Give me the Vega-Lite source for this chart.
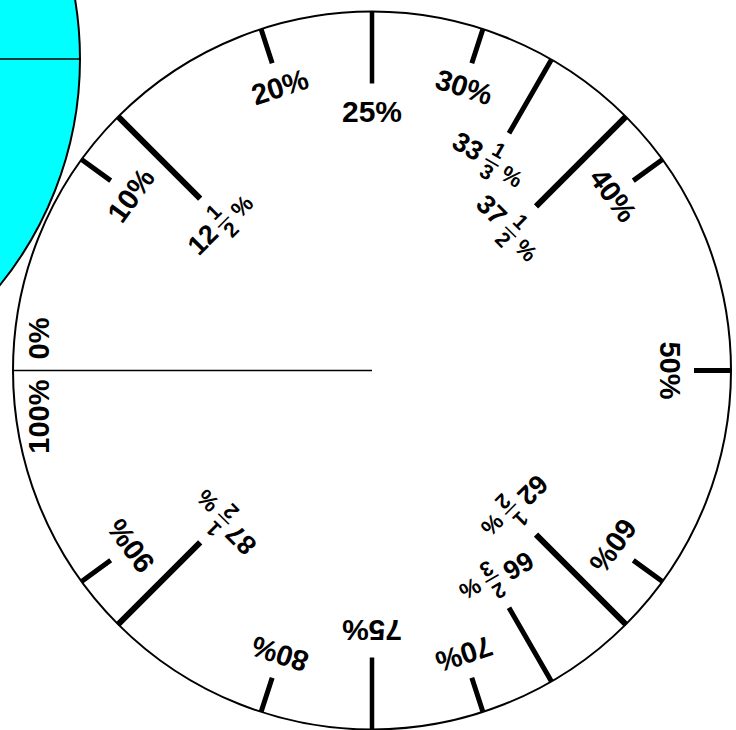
{
  "$schema": "https://vega.github.io/schema/vega-lite/v6.json",
  "width": 728,
  "height": 719,
  "autosize": "none",
  "padding": {"left": 8, "top": 11, "right": 0, "bottom": 0},
  "background": "white",
  "datasets": {
    "dial": [
      {"pct": 0, "label": "0%", "kind": "zero"},
      {"pct": 10, "label": "10%", "kind": "tenth"},
      {"pct": 12.5, "whole": "12", "num": "1", "den": "2", "kind": "eighth"},
      {"pct": 20, "label": "20%", "kind": "tenth"},
      {"pct": 25, "label": "25%", "kind": "quarter"},
      {"pct": 30, "label": "30%", "kind": "tenth"},
      {"pct": 33.333, "whole": "33", "num": "1", "den": "3", "kind": "third"},
      {"pct": 37.5, "whole": "37", "num": "1", "den": "2", "kind": "eighth"},
      {"pct": 40, "label": "40%", "kind": "tenth"},
      {"pct": 50, "label": "50%", "kind": "half"},
      {"pct": 60, "label": "60%", "kind": "tenth"},
      {"pct": 62.5, "whole": "62", "num": "1", "den": "2", "kind": "eighth"},
      {"pct": 66.667, "whole": "66", "num": "2", "den": "3", "kind": "third"},
      {"pct": 70, "label": "70%", "kind": "tenth"},
      {"pct": 75, "label": "75%", "kind": "quarter"},
      {"pct": 80, "label": "80%", "kind": "tenth"},
      {"pct": 87.5, "whole": "87", "num": "1", "den": "2", "kind": "eighth"},
      {"pct": 90, "label": "90%", "kind": "tenth"},
      {"pct": 100, "label": "100%", "kind": "full"}
    ]
  },
  "data": {"name": "dial"},
  "layer": [
    {
      "data": {"values": [{"disc": "overlay"}]},
      "mark": {"type": "arc", "fill": "#00FFFF", "stroke": "black", "strokeWidth": 2},
      "encoding": {
        "x": {"value": -287},
        "y": {"value": 48},
        "theta": {"value": 0},
        "theta2": {"value": 6.2832},
        "radius": {"value": 359}
      }
    },
    {
      "data": {"values": [{"disc": "overlay"}]},
      "mark": {"type": "arc", "fill": "black", "stroke": "black", "strokeWidth": 1.6},
      "encoding": {
        "x": {"value": -287},
        "y": {"value": 48},
        "theta": {"value": 1.5708},
        "theta2": {"value": 1.5708},
        "radius": {"value": 359},
        "radius2": {"value": 0}
      }
    },
    {
      "data": {"values": [{"disc": "dial"}]},
      "mark": {"type": "arc", "fill": "white", "stroke": "black", "strokeWidth": 2},
      "encoding": {
        "theta": {"value": 0},
        "theta2": {"value": 6.2832},
        "radius": {"value": 359}
      }
    },
    {
      "transform": [{"filter": "datum.kind == 'zero'"}],
      "mark": {"type": "arc", "fill": "black", "stroke": "black", "strokeWidth": 1.6},
      "encoding": {
        "theta": {"field": "pct", "type": "quantitative", "stack": null, "scale": {"domain": [0, 100], "range": [-1.5708, 4.7124]}},
        "theta2": {"field": "pct"},
        "radius": {"value": 359},
        "radius2": {"value": 0}
      }
    },
    {
      "transform": [{"filter": "datum.kind == 'tenth'"}],
      "mark": {"type": "arc", "fill": "black", "stroke": "black", "strokeWidth": 5},
      "encoding": {
        "theta": {"field": "pct", "type": "quantitative", "stack": null, "scale": {"domain": [0, 100], "range": [-1.5708, 4.7124]}},
        "theta2": {"field": "pct"},
        "radius": {"value": 359},
        "radius2": {"value": 323}
      }
    },
    {
      "transform": [{"filter": "datum.kind == 'eighth' && (datum.pct < 25 || datum.pct > 75)"}],
      "mark": {"type": "arc", "fill": "black", "stroke": "black", "strokeWidth": 6},
      "encoding": {
        "theta": {"field": "pct", "type": "quantitative", "stack": null, "scale": {"domain": [0, 100], "range": [-1.5708, 4.7124]}},
        "theta2": {"field": "pct"},
        "radius": {"value": 359},
        "radius2": {"value": 243}
      }
    },
    {
      "transform": [{"filter": "datum.kind == 'eighth' && datum.pct > 25 && datum.pct < 75"}],
      "mark": {"type": "arc", "fill": "black", "stroke": "black", "strokeWidth": 6},
      "encoding": {
        "theta": {"field": "pct", "type": "quantitative", "stack": null, "scale": {"domain": [0, 100], "range": [-1.5708, 4.7124]}},
        "theta2": {"field": "pct"},
        "radius": {"value": 359},
        "radius2": {"value": 232}
      }
    },
    {
      "transform": [{"filter": "datum.kind == 'third'"}],
      "mark": {"type": "arc", "fill": "black", "stroke": "black", "strokeWidth": 5},
      "encoding": {
        "theta": {"field": "pct", "type": "quantitative", "stack": null, "scale": {"domain": [0, 100], "range": [-1.5708, 4.7124]}},
        "theta2": {"field": "pct"},
        "radius": {"value": 359},
        "radius2": {"value": 274}
      }
    },
    {
      "transform": [{"filter": "datum.kind == 'quarter'"}],
      "mark": {"type": "arc", "fill": "black", "stroke": "black", "strokeWidth": 4.5},
      "encoding": {
        "theta": {"field": "pct", "type": "quantitative", "stack": null, "scale": {"domain": [0, 100], "range": [-1.5708, 4.7124]}},
        "theta2": {"field": "pct"},
        "radius": {"value": 359},
        "radius2": {"value": 287}
      }
    },
    {
      "transform": [{"filter": "datum.kind == 'half'"}],
      "mark": {"type": "arc", "fill": "black", "stroke": "black", "strokeWidth": 5},
      "encoding": {
        "theta": {"field": "pct", "type": "quantitative", "stack": null, "scale": {"domain": [0, 100], "range": [-1.5708, 4.7124]}},
        "theta2": {"field": "pct"},
        "radius": {"value": 359},
        "radius2": {"value": 322}
      }
    },
    {
      "transform": [{"filter": "datum.kind == 'tenth' || datum.kind == 'half'"}],
      "mark": {"type": "text", "font": "Liberation Sans", "fontWeight": "bold", "fontSize": 29, "align": "center", "baseline": "middle", "color": "black"},
      "encoding": {
        "theta": {"field": "pct", "type": "quantitative", "scale": {"domain": [0, 100], "range": [-1.5708, 4.7124]}},
        "radius": {"value": 297},
        "angle": {"field": "pct", "type": "quantitative", "scale": {"domain": [0, 100], "range": [-90, 270]}},
        "text": {"field": "label"}
      }
    },
    {
      "transform": [{"filter": "datum.kind == 'quarter'"}],
      "mark": {"type": "text", "font": "Liberation Sans", "fontWeight": "bold", "fontSize": 30, "align": "center", "baseline": "middle", "color": "black"},
      "encoding": {
        "theta": {"field": "pct", "type": "quantitative", "scale": {"domain": [0, 100], "range": [-1.5708, 4.7124]}},
        "radius": {"value": 258},
        "angle": {"field": "pct", "type": "quantitative", "scale": {"domain": [0, 100], "range": [-90, 270]}},
        "text": {"field": "label"}
      }
    },
    {
      "transform": [{"filter": "datum.kind == 'zero'"}],
      "mark": {"type": "text", "font": "Liberation Sans", "fontWeight": "bold", "fontSize": 29, "align": "left", "baseline": "middle", "dx": 11, "color": "black"},
      "encoding": {
        "theta": {"field": "pct", "type": "quantitative", "scale": {"domain": [0, 100], "range": [-1.5708, 4.7124]}},
        "radius": {"value": 332},
        "angle": {"field": "pct", "type": "quantitative", "scale": {"domain": [0, 100], "range": [-90, 270]}},
        "text": {"field": "label"}
      }
    },
    {
      "transform": [{"filter": "datum.kind == 'full'"}],
      "mark": {"type": "text", "font": "Liberation Sans", "fontWeight": "bold", "fontSize": 29, "align": "right", "baseline": "middle", "dx": -9, "color": "black"},
      "encoding": {
        "theta": {"field": "pct", "type": "quantitative", "scale": {"domain": [0, 100], "range": [-1.5708, 4.7124]}},
        "radius": {"value": 332},
        "angle": {"field": "pct", "type": "quantitative", "scale": {"domain": [0, 100], "range": [-90, 270]}},
        "text": {"field": "label"}
      }
    },
    {
      "transform": [{"filter": "datum.kind == 'eighth' && (datum.pct < 25 || datum.pct > 75)"}],
      "encoding": {
        "theta": {"field": "pct", "type": "quantitative", "scale": {"domain": [0, 100], "range": [-1.5708, 4.7124]}},
        "radius": {"value": 211},
        "angle": {"field": "pct", "type": "quantitative", "scale": {"domain": [0, 100], "range": [-90, 270]}}
      },
      "layer": [
        {
          "mark": {"type": "text", "font": "Liberation Sans", "fontWeight": "bold", "fontSize": 27, "align": "right", "baseline": "middle", "dx": -12, "color": "black"},
          "encoding": {"text": {"field": "whole"}}
        },
        {
          "mark": {"type": "text", "font": "Liberation Sans", "fontWeight": "bold", "fontSize": 21, "align": "center", "baseline": "middle", "dy": -12, "color": "black"},
          "encoding": {"text": {"field": "num"}}
        },
        {
          "mark": {"type": "text", "font": "Liberation Sans", "fontWeight": "bold", "fontSize": 21, "align": "center", "baseline": "middle", "dy": 13, "color": "black"},
          "encoding": {"text": {"field": "den"}}
        },
        {
          "mark": {"type": "text", "font": "Liberation Sans", "fontWeight": "bold", "fontSize": 15, "align": "center", "baseline": "middle", "color": "black"},
          "encoding": {"text": {"value": "—"}}
        },
        {
          "mark": {"type": "text", "font": "Liberation Sans", "fontWeight": "bold", "fontSize": 23, "align": "center", "baseline": "middle", "dx": 24, "dy": 4, "color": "black"},
          "encoding": {"text": {"value": "%"}}
        }
      ]
    },
    {
      "transform": [{"filter": "datum.kind == 'eighth' && datum.pct > 25 && datum.pct < 75"}],
      "encoding": {
        "theta": {"field": "pct", "type": "quantitative", "scale": {"domain": [0, 100], "range": [-1.5708, 4.7124]}},
        "radius": {"value": 197},
        "angle": {"field": "pct", "type": "quantitative", "scale": {"domain": [0, 100], "range": [-90, 270]}}
      },
      "layer": [
        {
          "mark": {"type": "text", "font": "Liberation Sans", "fontWeight": "bold", "fontSize": 27, "align": "right", "baseline": "middle", "dx": -14, "color": "black"},
          "encoding": {"text": {"field": "whole"}}
        },
        {
          "mark": {"type": "text", "font": "Liberation Sans", "fontWeight": "bold", "fontSize": 21, "align": "center", "baseline": "middle", "dy": -12, "color": "black"},
          "encoding": {"text": {"field": "num"}}
        },
        {
          "mark": {"type": "text", "font": "Liberation Sans", "fontWeight": "bold", "fontSize": 21, "align": "center", "baseline": "middle", "dy": 13, "color": "black"},
          "encoding": {"text": {"field": "den"}}
        },
        {
          "mark": {"type": "text", "font": "Liberation Sans", "fontWeight": "bold", "fontSize": 15, "align": "center", "baseline": "middle", "color": "black"},
          "encoding": {"text": {"value": "—"}}
        },
        {
          "mark": {"type": "text", "font": "Liberation Sans", "fontWeight": "bold", "fontSize": 23, "align": "center", "baseline": "middle", "dx": 24, "dy": 4, "color": "black"},
          "encoding": {"text": {"value": "%"}}
        }
      ]
    },
    {
      "transform": [{"filter": "datum.kind == 'third'"}],
      "encoding": {
        "theta": {"field": "pct", "type": "quantitative", "scale": {"domain": [0, 100], "range": [-1.5708, 4.7124]}},
        "radius": {"value": 241},
        "angle": {"field": "pct", "type": "quantitative", "scale": {"domain": [0, 100], "range": [-90, 270]}}
      },
      "layer": [
        {
          "mark": {"type": "text", "font": "Liberation Sans", "fontWeight": "bold", "fontSize": 27, "align": "right", "baseline": "middle", "dx": -14, "color": "black"},
          "encoding": {"text": {"field": "whole"}}
        },
        {
          "mark": {"type": "text", "font": "Liberation Sans", "fontWeight": "bold", "fontSize": 21, "align": "center", "baseline": "middle", "dy": -12, "color": "black"},
          "encoding": {"text": {"field": "num"}}
        },
        {
          "mark": {"type": "text", "font": "Liberation Sans", "fontWeight": "bold", "fontSize": 21, "align": "center", "baseline": "middle", "dy": 13, "color": "black"},
          "encoding": {"text": {"field": "den"}}
        },
        {
          "mark": {"type": "text", "font": "Liberation Sans", "fontWeight": "bold", "fontSize": 15, "align": "center", "baseline": "middle", "color": "black"},
          "encoding": {"text": {"value": "—"}}
        },
        {
          "mark": {"type": "text", "font": "Liberation Sans", "fontWeight": "bold", "fontSize": 23, "align": "center", "baseline": "middle", "dx": 24, "dy": 4, "color": "black"},
          "encoding": {"text": {"value": "%"}}
        }
      ]
    }
  ],
  "config": {
    "view": {"stroke": null},
    "text": {"font": "Liberation Sans"}
  }
}
